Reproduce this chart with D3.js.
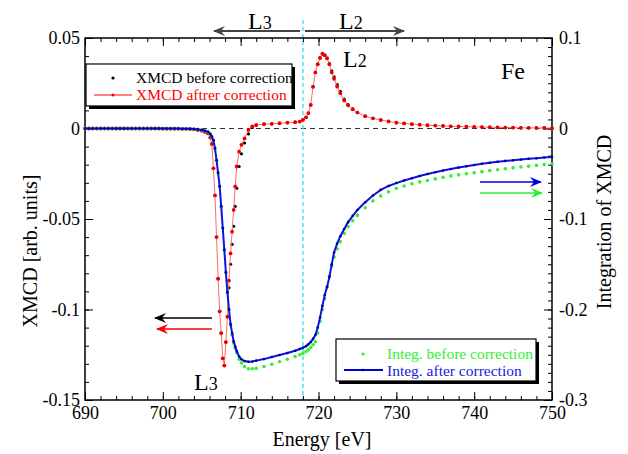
<!DOCTYPE html>
<html>
<head>
<meta charset="utf-8">
<script src="https://cdn.jsdelivr.net/npm/d3@7"></script>
<style>
  body { margin: 0; background: #fff; }
  svg, svg text { font-family: "Liberation Serif", "Times New Roman", Times, serif; }
</style>
</head>
<body>
<svg id="chart" width="628" height="454"></svg>
<script>
// energy grid [eV]
var energy = [690,690.5,691,691.5,692,692.5,693,693.5,694,694.5,695,695.5,696,696.5,
  697,697.5,698,698.5,699,699.5,700,700.5,701,701.5,702,702.5,703,
  703.5,704,704.5,705,705.4,705.8,
  706.1,706.3,706.5,706.7,706.9,707.1,707.3,707.5,707.7,707.9,
  708.1,708.3,708.5,708.7,708.9,709.1,709.3,709.5,709.8,710.1,710.5,
  711,711.5,712,713,714,715,716,717,717.6,
  718,718.4,718.7,719,719.3,719.6,719.9,720.2,720.5,720.8,
  721.1,721.4,721.7,722,722.4,722.8,723.3,723.8,724.4,725,
  726,727,728,729,730,
  731,732,733,734,735,736,737,738,739,740,
  741,742,743,744,745,746,747,748,749,750];

// XMCD (left axis)
var xmcdAfter = [0,0,0,0,0,0,0,0,0,0,0,0,0,0,
  0,0,0,0,0,0,-0.0001,-0.0001,-0.0001,-0.0001,-0.0001,-0.0002,-0.0002,
  -0.0003,-0.0005,-0.0008,-0.0012,-0.0018,-0.0027,
  -0.005,-0.0085,-0.022,-0.037,-0.060,-0.083,-0.101,-0.113,-0.127,-0.131,
  -0.118,-0.104,-0.084,-0.069,-0.057,-0.045,-0.032,-0.021,-0.0128,-0.009,-0.0055,
  -0.0008,0.0012,0.002,0.0024,0.0026,0.0029,0.0032,0.0035,0.0038,
  0.0048,0.0062,0.0085,0.013,0.023,0.031,0.0355,0.039,0.0413,0.0405,
  0.0388,0.0355,0.031,0.0275,0.0232,0.0195,0.0155,0.0128,0.0106,0.0088,
  0.0068,0.0056,0.0047,0.0039,0.0032,
  0.0028,0.0024,0.0021,0.0018,0.0016,0.0014,0.0012,0.0011,0.001,0.0009,
  0.0008,0.0007,0.0006,0.0005,0.0005,0.0004,0.0004,0.0003,0.0003,0.0002];

var xmcdBefore = [0,0,0,0,0,0,0,0,0,0,0,0,0,0,
  0,0,0,0,0,0,-0.0001,-0.0001,-0.0001,-0.0001,-0.0001,-0.0002,-0.0002,
  -0.0003,-0.0005,-0.0008,-0.0012,-0.0018,-0.0027,
  -0.005,-0.0085,-0.022,-0.037,-0.060,-0.083,-0.101,-0.113,-0.127,-0.131,
  -0.118,-0.104,-0.088,-0.075,-0.064,-0.054,-0.043,-0.033,-0.021,-0.014,-0.008,
  -0.003,0.0005,0.0018,0.0024,0.0026,0.0029,0.0032,0.0035,0.0038,
  0.0048,0.0062,0.0085,0.013,0.023,0.031,0.0355,0.039,0.0413,0.0405,
  0.0388,0.0358,0.0318,0.0285,0.0242,0.0205,0.0162,0.0132,0.0108,0.0089,
  0.0068,0.0056,0.0047,0.0039,0.0032,
  0.0028,0.0024,0.0021,0.0018,0.0016,0.0014,0.0012,0.0011,0.001,0.0009,
  0.0008,0.0007,0.0006,0.0005,0.0005,0.0004,0.0004,0.0003,0.0003,0.0002];

// integration (right axis)
var integAfter = [0,0,0,0,0,0,0,0,0,0,0,0,0,0,
  0,0,0,0,0,0,0,0,-0.0001,-0.0001,-0.0001,-0.0002,-0.0002,
  -0.0003,-0.0006,-0.001,-0.0017,-0.0025,-0.0037,
  -0.006,-0.009,-0.013,-0.022,-0.035,-0.049,-0.064,-0.086,-0.110,-0.134,
  -0.159,-0.181,-0.200,-0.216,-0.226,-0.235,-0.241,-0.246,-0.252,-0.255,-0.257,
  -0.2578,-0.2575,-0.2565,-0.2548,-0.2525,-0.2503,-0.248,-0.2455,-0.2437,
  -0.2423,-0.2405,-0.2385,-0.236,-0.2325,-0.2282,-0.220,-0.209,-0.196,-0.184,
  -0.175,-0.164,-0.150,-0.137,-0.127,-0.119,-0.111,-0.1035,-0.0965,-0.090,
  -0.0815,-0.074,-0.0678,-0.0635,-0.0603,
  -0.0575,-0.055,-0.0525,-0.0502,-0.0483,-0.0465,-0.0448,-0.0432,-0.0417,-0.0403,
  -0.039,-0.0378,-0.0368,-0.0358,-0.035,-0.0342,-0.0335,-0.0328,-0.0321,-0.0315];

var integBefore = [0,0,0,0,0,0,0,0,0,0,0,0,0,0,
  0,0,0,0,0,0,0,0,-0.0001,-0.0001,-0.0001,-0.0002,-0.0002,
  -0.0003,-0.0006,-0.001,-0.0017,-0.0025,-0.0037,
  -0.006,-0.009,-0.013,-0.022,-0.035,-0.049,-0.064,-0.086,-0.110,-0.134,
  -0.159,-0.181,-0.200,-0.217,-0.228,-0.237,-0.243,-0.248,-0.255,-0.259,-0.263,
  -0.2655,-0.2655,-0.265,-0.263,-0.2605,-0.2578,-0.255,-0.252,-0.250,
  -0.2485,-0.2465,-0.2445,-0.242,-0.239,-0.2356,-0.226,-0.213,-0.200,-0.188,
  -0.175,-0.163,-0.152,-0.142,-0.133,-0.125,-0.116,-0.1085,-0.102,-0.096,
  -0.0875,-0.080,-0.0745,-0.070,-0.0661,
  -0.0635,-0.061,-0.059,-0.0575,-0.0557,-0.054,-0.0525,-0.0512,-0.05,-0.049,
  -0.0477,-0.0465,-0.0455,-0.0445,-0.0435,-0.0425,-0.0416,-0.0408,-0.0399,-0.039];

var xTicks = [690,700,710,720,730,740,750];
var yLeftTicks = [-0.15,-0.1,-0.05,0,0.05];
var yRightTicks = [-0.3,-0.2,-0.1,0,0.1];

var svg = d3.select("#chart");
var pL = 85, pR = 552, pT = 38, pB = 400;

var x = d3.scaleLinear().domain([690,750]).range([pL,pR]);
var yL = d3.scaleLinear().domain([-0.15,0.05]).range([pB,pT]);
var yR = d3.scaleLinear().domain([-0.3,0.1]).range([pB,pT]);

var fmt = function(d) { return d === 0 ? "0" : String(+d.toFixed(2)); };

/* arrow heads */
var defs = svg.append("defs");
function marker(id, col) {
  defs.append("marker").attr("id", id)
    .attr("viewBox", "0 0 12 10").attr("refX", 11).attr("refY", 5)
    .attr("markerWidth", 12).attr("markerHeight", 10)
    .attr("markerUnits", "userSpaceOnUse").attr("orient", "auto")
    .append("path").attr("d", "M0,0 L12,5 L0,10 L4,5 Z").attr("fill", col);
}
marker("ah-gray", "#444");
marker("ah-black", "#000");
marker("ah-red", "#ff0000");
marker("ah-blue", "#0000dd");
marker("ah-green", "#33ee33");

// zero line
svg.append("line")
  .attr("x1", pL).attr("x2", pR).attr("y1", yL(0)).attr("y2", yL(0))
  .attr("stroke", "#333").attr("stroke-width", 1.2).attr("stroke-dasharray", "5,4");

// cyan dashed line at 718 eV
svg.append("line")
  .attr("x1", x(718)).attr("x2", x(718)).attr("y1", 20).attr("y2", pB)
  .attr("stroke", "#33ddee").attr("stroke-width", 1.3).attr("stroke-dasharray", "4,3");

// ticks
function minor(a, b, s) { return d3.range(a, b + s / 2, s); }
svg.append("g").attr("transform", "translate(0," + pB + ")")
  .call(d3.axisBottom(x).tickValues(minor(690, 750, 2)).tickSize(-4).tickFormat(""));
svg.append("g").attr("transform", "translate(0," + pT + ")")
  .call(d3.axisTop(x).tickValues(minor(690, 750, 2)).tickSize(-4).tickFormat(""));
svg.append("g").attr("transform", "translate(0," + pT + ")")
  .call(d3.axisTop(x).tickValues(xTicks).tickSize(-8).tickFormat(""));
svg.append("g").attr("class", "ax").attr("transform", "translate(0," + pB + ")")
  .call(d3.axisBottom(x).tickValues(xTicks).tickSize(-8).tickPadding(6).tickFormat(d3.format("d")));

svg.append("g").attr("transform", "translate(" + pL + ",0)")
  .call(d3.axisLeft(yL).tickValues(minor(-0.15, 0.05, 0.01)).tickSize(-4).tickFormat(""));
svg.append("g").attr("class", "ax").attr("transform", "translate(" + pL + ",0)")
  .call(d3.axisLeft(yL).tickValues(yLeftTicks).tickSize(-8).tickPadding(5).tickFormat(fmt));
svg.append("g").attr("transform", "translate(" + pR + ",0)")
  .call(d3.axisRight(yR).tickValues(minor(-0.3, 0.1, 0.01)).tickSize(-4).tickFormat(""));
svg.append("g").attr("class", "ax").attr("transform", "translate(" + pR + ",0)")
  .call(d3.axisRight(yR).tickValues(yRightTicks).tickSize(-8).tickPadding(7).tickFormat(fmt));

svg.selectAll(".domain").remove();
svg.selectAll("g").attr("font-family", null).attr("font-size", null);
svg.selectAll(".tick line").attr("stroke", "#000").attr("stroke-width", 1);
svg.selectAll(".ax text").style("font-size", "18px").attr("fill", "#000");

// frame
svg.append("rect").attr("x", pL).attr("y", pT)
  .attr("width", pR - pL).attr("height", pB - pT)
  .attr("fill", "none").attr("stroke", "#000").attr("stroke-width", 1.5);

// series
var pts = function(vals) { return energy.map(function(e, i) { return [e, vals[i]]; }); };

function dots(data, ysc, r, col) {
  svg.append("g").selectAll("circle").data(data).enter().append("circle")
    .attr("cx", function(d) { return x(d[0]); })
    .attr("cy", function(d) { return ysc(d[1]); })
    .attr("r", r).attr("fill", col);
}
function line(data, ysc, w, col) {
  svg.append("path").datum(data)
    .attr("d", d3.line().x(function(d) { return x(d[0]); }).y(function(d) { return ysc(d[1]); }))
    .attr("fill", "none").attr("stroke", col).attr("stroke-width", w);
}

dots(pts(xmcdBefore), yL, 1.6, "#000");
line(pts(xmcdAfter), yL, 1, "#ff6a6a");
dots(pts(xmcdAfter), yL, 1.9, "#ee0000");
dots(pts(integBefore), yR, 1.8, "#33ee33");
line(pts(integAfter), yR, 2, "#1010e8");
dots(pts(integAfter), yR, 1.3, "#0000a0");

// arrows
function arrow(x1, y1, x2, y2, col, id, w) {
  svg.append("line").attr("x1", x1).attr("y1", y1).attr("x2", x2).attr("y2", y2)
    .attr("stroke", col).attr("stroke-width", w).attr("marker-end", "url(#" + id + ")");
}
arrow(300, 31, 214, 31, "#444", "ah-gray", 1.8);
arrow(305, 31, 404, 31, "#444", "ah-gray", 1.8);
arrow(212, 318, 155, 318, "#000", "ah-black", 1.3);
arrow(212, 329, 157, 329, "#ff0000", "ah-red", 1.3);
arrow(480, 182, 541, 182, "#0000dd", "ah-blue", 1.3);
arrow(480, 193, 542, 193, "#33ee33", "ah-green", 1.3);

// labels with subscript-like digit
function edgeLabel(tx, ty, digit) {
  var t = svg.append("text").attr("x", tx).attr("y", ty).style("font-size", "24px").attr("fill", "#000");
  t.append("tspan").text("L");
  t.append("tspan").style("font-size", "18px").text(digit);
}
edgeLabel(248, 29, "3");
edgeLabel(339, 29, "2");
edgeLabel(343, 67, "2");
edgeLabel(194, 390, "3");

svg.append("text").attr("x", 501).attr("y", 79).style("font-size", "24px").text("Fe");

// legends
function legendBox(x0, y0, w, h) {
  svg.append("rect").attr("x", x0 + 3).attr("y", y0 + 3).attr("width", w).attr("height", h).attr("fill", "#000");
  svg.append("rect").attr("x", x0).attr("y", y0).attr("width", w).attr("height", h)
    .attr("fill", "#fff").attr("stroke", "#000").attr("stroke-width", 1.2);
}
legendBox(86, 64, 206, 42);
svg.append("circle").attr("cx", 113).attr("cy", 78).attr("r", 1.6).attr("fill", "#000");
svg.append("text").attr("x", 136).attr("y", 83).style("font-size", "15.5px").attr("fill", "#000").text("XMCD before correction");
svg.append("line").attr("x1", 94).attr("x2", 132).attr("y1", 95).attr("y2", 95).attr("stroke", "#ff0000").attr("stroke-width", 1);
svg.append("circle").attr("cx", 113).attr("cy", 95).attr("r", 1.5).attr("fill", "#ee0000");
svg.append("text").attr("x", 136).attr("y", 100).style("font-size", "15.5px").attr("fill", "#ff0000").text("XMCD aftrer correction");

legendBox(336, 339, 200, 42);
svg.append("circle").attr("cx", 363).attr("cy", 354).attr("r", 1.6).attr("fill", "#33ee33");
svg.append("text").attr("x", 387).attr("y", 359).style("font-size", "15.5px").attr("fill", "#33ee33").text("Integ. before correction");
svg.append("line").attr("x1", 344).attr("x2", 383).attr("y1", 370).attr("y2", 370).attr("stroke", "#0000dd").attr("stroke-width", 2);
svg.append("circle").attr("cx", 363).attr("cy", 370).attr("r", 1.2).attr("fill", "#0000a0");
svg.append("text").attr("x", 387).attr("y", 376).style("font-size", "15.5px").attr("fill", "#2020e0").text("Integ. after correction");

// axis titles
svg.append("text").attr("transform", "translate(37,251) rotate(-90)")
  .attr("text-anchor", "middle").style("font-size", "20px").text("XMCD  [arb. units]");
svg.append("text").attr("transform", "translate(611,222) rotate(-90)")
  .attr("text-anchor", "middle").style("font-size", "20px").text("Integration of XMCD");
svg.append("text").attr("x", 322).attr("y", 446)
  .attr("text-anchor", "middle").style("font-size", "20px").text("Energy [eV]");
</script>
</body>
</html>
